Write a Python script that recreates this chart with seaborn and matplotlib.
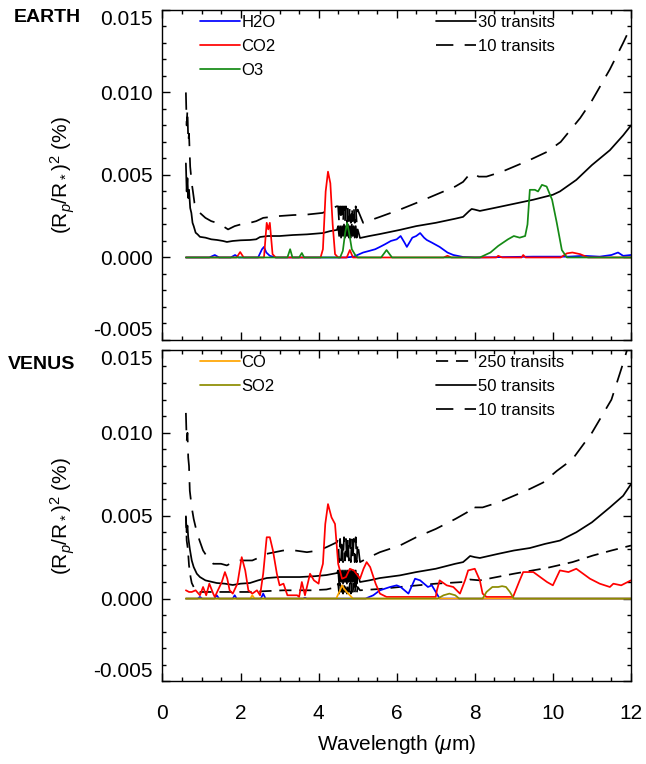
import numpy as np
import pandas as pd
import matplotlib
matplotlib.use("Agg")
import matplotlib.pyplot as plt
from matplotlib.lines import Line2D
from matplotlib.ticker import MultipleLocator
import seaborn as sns

# ---------------- DATA ----------------
# EARTH panel
earth_x30 = [0.60, 0.62, 0.64, 0.66, 0.68, 0.71, 0.74, 0.77, 0.80, 0.85, 0.90, 0.96, 1.10, 1.25, 1.40,
             1.55, 1.65, 1.80, 2.00, 2.24, 2.40, 2.50, 2.70, 3.00, 3.34, 3.70, 4.11, 4.30, 4.47,
             4.500, 4.525, 4.550, 4.575, 4.600, 4.625, 4.650, 4.675, 4.700, 4.725, 4.750, 4.775,
             4.800, 4.825, 4.850, 4.875, 4.900, 4.925, 4.950, 4.975, 5.000,
             5.06, 5.30, 5.57, 6.08, 6.50, 7.00, 7.50, 7.70, 7.85, 7.92, 8.00, 8.13, 8.50, 8.98,
             9.50, 10.00, 10.18, 10.60, 11.00, 11.46, 11.80, 12.00]
earth_y30 = [0.0057, 0.0040, 0.0048, 0.0036, 0.0041, 0.0030, 0.0027, 0.0021, 0.0019, 0.0015, 0.0014, 0.00125,
             0.0012, 0.0011, 0.00106, 0.0010, 0.00094, 0.0010, 0.00104, 0.00106, 0.0011, 0.00124, 0.0013,
             0.0013, 0.00136, 0.0014, 0.00148, 0.0016, 0.00167,
             0.0019, 0.0013, 0.0019, 0.0012, 0.0019, 0.0013, 0.0020, 0.0012, 0.0019, 0.0013, 0.0020, 0.0012,
             0.0019, 0.0012, 0.0020, 0.0013, 0.0019, 0.0012, 0.0019, 0.0012, 0.0017,
             0.00118, 0.0013, 0.00142, 0.00167, 0.0019, 0.0021, 0.00235, 0.00246, 0.0028, 0.00294, 0.0029,
             0.00282, 0.0030, 0.00324, 0.0035, 0.0038, 0.0040, 0.0047, 0.0056, 0.0065, 0.0074, 0.0080]

earth_x10 = [0.60, 0.62, 0.64, 0.66, 0.68, 0.71, 0.75, 0.78, 0.82, 0.88, 0.96, 1.10, 1.25, 1.39, 1.55,
             1.68, 1.85, 2.00, 2.24, 2.40, 2.58, 2.93, 3.35, 3.70, 4.10, 4.30, 4.46,
             4.500, 4.525, 4.550, 4.575, 4.600, 4.625, 4.650, 4.675, 4.700, 4.725, 4.750, 4.775,
             4.800, 4.825, 4.850, 4.875, 4.900, 4.925, 4.950, 4.975, 5.000,
             5.14, 5.57, 6.08, 6.50, 7.00, 7.50, 7.70, 7.85, 7.95, 8.10, 8.30, 8.70, 9.00, 9.40,
             9.85, 10.20, 10.70, 11.00, 11.46, 11.80, 12.00]
earth_y10 = [0.0100, 0.0080, 0.0090, 0.0070, 0.0075, 0.0055, 0.0045, 0.0040, 0.0033, 0.0030, 0.0027, 0.0024,
             0.0022, 0.0021, 0.0019, 0.0017, 0.0019, 0.0020, 0.0021, 0.0022, 0.0024, 0.0025, 0.00257, 0.0026,
             0.0027, 0.0029, 0.0031,
             0.0031, 0.0021, 0.0031, 0.0022, 0.0031, 0.0021, 0.0031, 0.0022, 0.0031, 0.0021, 0.0031, 0.0022,
             0.0031, 0.0021, 0.0031, 0.0022, 0.0031, 0.0021, 0.0031, 0.0021, 0.0029,
             0.0021, 0.00246, 0.0029, 0.0033, 0.0038, 0.0043, 0.00458, 0.0050, 0.0051, 0.0049, 0.0049,
             0.0052, 0.0055, 0.0059, 0.0064, 0.0070, 0.00845, 0.0095, 0.0114, 0.0130, 0.0140]

earth_h2o_x = [0.6, 1.2, 1.34, 1.45, 1.75, 1.86, 1.95, 2.45, 2.55, 2.60, 2.66, 2.75, 2.90, 4.70, 4.90,
               5.14, 5.30, 5.45, 5.57, 5.70, 5.85, 6.00, 6.10, 6.20, 6.26, 6.40, 6.50, 6.60, 6.70, 6.77,
               6.90, 7.10, 7.30, 7.45, 7.70, 8.00, 9.50, 10.40, 10.80, 11.20, 11.50, 11.67, 11.80, 12.00]
earth_h2o_y = [0, 0, 0.00015, 0, 0, 0.00015, 0, 0, 0.0005, 0.00064, 0.0003, 0.0001, 0, 0, 0.00005,
               0.0003, 0.0004, 0.0005, 0.00064, 0.0008, 0.0010, 0.0011, 0.0013, 0.0009, 0.00064, 0.0012,
               0.0013, 0.00148, 0.0012, 0.00106, 0.0009, 0.00064, 0.0003, 0.00015, 0.00003, 0, 0.00005,
               0.00005, 0.0001, 0.00005, 0.00015, 0.0003, 0.0001, 0.00015]

earth_co2_x = [0.6, 1.90, 1.99, 2.08, 2.60, 2.67, 2.71, 2.75, 2.82, 2.90, 4.05, 4.11, 4.18, 4.24, 4.30,
               4.36, 4.42, 4.50, 4.72, 4.80, 4.88, 7.20, 7.30, 7.40, 8.55, 8.60, 8.70, 9.20, 9.24, 9.30,
               10.20, 10.36, 10.50, 10.70, 10.90, 12.00]
earth_co2_y = [0, 0, 0.00033, 0, 0, 0.0021, 0.0017, 0.0021, 0.0002, 0, 0, 0.0005, 0.0040, 0.0052, 0.0045,
               0.0020, 0.0002, 0, 0, 0.00045, 0, 0, 0.0001, 0, 0, 0.0001, 0, 0, 0.00015, 0,
               0, 0.00025, 0.0003, 0.0002, 0, 0]

earth_o3_x = [0.6, 3.20, 3.27, 3.33, 3.50, 3.57, 3.63, 4.55, 4.62, 4.68, 4.73, 4.78, 4.85, 4.95, 5.00,
              5.60, 5.74, 5.88, 8.13, 8.40, 8.60, 8.85, 9.00, 9.15, 9.29, 9.35, 9.41, 9.54, 9.62, 9.72,
              9.84, 9.98, 10.10, 10.23, 10.36, 12.00]
earth_o3_y = [0, 0, 0.0005, 0, 0, 0.00027, 0, 0, 0.0004, 0.0015, 0.0021, 0.0015, 0.0005, 0.0001, 0,
              0, 0.00045, 0, 0, 0.0003, 0.0007, 0.0011, 0.0013, 0.0012, 0.0013, 0.0020, 0.0041, 0.0041,
              0.0040, 0.0044, 0.0043, 0.0035, 0.0021, 0.00045, 0, 0]

# VENUS panel
venus_x10 = [0.60, 0.62, 0.64, 0.66, 0.68, 0.70, 0.75, 0.80, 0.87, 0.95, 1.04, 1.15, 1.30, 1.50, 1.65,
             1.80, 1.98, 2.30, 2.50, 2.67, 3.09, 3.40, 3.70, 4.00, 4.20, 4.47,
             4.500, 4.525, 4.550, 4.575, 4.600, 4.625, 4.650, 4.675, 4.700, 4.725, 4.750, 4.775,
             4.800, 4.825, 4.850, 4.875, 4.900, 4.925, 4.950, 4.975, 5.000,
             5.06, 5.30, 5.57, 6.08, 6.50, 7.00, 7.50, 7.80, 7.88, 8.00, 8.20, 8.60, 9.00, 9.40,
             9.75, 10.10, 10.50, 11.00, 11.50, 11.80, 12.00]
venus_y10 = [0.0112, 0.0095, 0.0100, 0.0085, 0.0080, 0.0065, 0.0055, 0.0048, 0.0041, 0.0035, 0.0029, 0.0025,
             0.0021, 0.0021, 0.0020, 0.0022, 0.0023, 0.0023, 0.0025, 0.0027, 0.0029, 0.0029, 0.0028, 0.0029,
             0.0031, 0.0034,
             0.0036, 0.0022, 0.0036, 0.0023, 0.0036, 0.0022, 0.0037, 0.0023, 0.0036, 0.0022, 0.0037, 0.0023,
             0.0036, 0.0022, 0.0037, 0.0023, 0.0036, 0.0022, 0.0037, 0.0022, 0.0034,
             0.0022, 0.0025, 0.0028, 0.0032, 0.0037, 0.0042, 0.0048, 0.0052, 0.0056, 0.0055, 0.0055,
             0.0058, 0.0062, 0.0066, 0.0070, 0.0077, 0.0084, 0.0100, 0.0120, 0.0142, 0.0158]

venus_x50 = [0.60, 0.62, 0.64, 0.66, 0.70, 0.75, 0.80, 0.88, 0.96, 1.10, 1.39, 1.60, 1.80, 2.00, 2.24,
             2.45, 2.67, 3.00, 3.52, 3.90, 4.20, 4.47,
             4.500, 4.525, 4.550, 4.575, 4.600, 4.625, 4.650, 4.675, 4.700, 4.725, 4.750, 4.775,
             4.800, 4.825, 4.850, 4.875, 4.900, 4.925, 4.950, 4.975, 5.000,
             5.06, 5.30, 5.57, 6.08, 6.50, 7.00, 7.50, 7.70, 7.80, 7.88, 8.00, 8.13, 8.60, 9.00,
             9.41, 9.80, 10.18, 10.60, 11.00, 11.46, 11.80, 12.00]
venus_y50 = [0.0049, 0.0040, 0.0044, 0.0037, 0.0030, 0.0023, 0.0019, 0.0015, 0.0013, 0.0011, 0.00094,
             0.0009, 0.00082, 0.0009, 0.00094, 0.0011, 0.00124, 0.0013, 0.0013, 0.00135, 0.00142, 0.00154,
             0.0017, 0.0009, 0.0017, 0.0010, 0.0017, 0.0009, 0.0017, 0.0010, 0.0017, 0.0009, 0.0017, 0.0010,
             0.0017, 0.0009, 0.0017, 0.0010, 0.0017, 0.0009, 0.0017, 0.0009, 0.0015,
             0.0010, 0.0011, 0.00124, 0.0014, 0.0016, 0.0018, 0.0021, 0.0022, 0.0024, 0.00257, 0.0025,
             0.00245, 0.0027, 0.0029, 0.00305, 0.0033, 0.0035, 0.0040, 0.0046, 0.0055, 0.0062, 0.0069]

venus_x250 = [0.60, 0.62, 0.65, 0.68, 0.72, 0.75, 0.82, 0.96, 1.50, 2.20, 3.10, 3.80, 4.20, 4.47,
              4.500, 4.525, 4.550, 4.575, 4.600, 4.625, 4.650, 4.675, 4.700, 4.725, 4.750, 4.775,
              4.800, 4.825, 4.850, 4.875, 4.900, 4.925, 4.950, 4.975, 5.000,
              5.06, 5.57, 6.08, 7.00, 7.70, 7.88, 8.13, 9.00, 9.85, 10.50, 11.03, 11.50, 12.00]
venus_y250 = [0.0050, 0.0035, 0.0030, 0.0020, 0.0013, 0.00094, 0.0006, 0.0004, 0.0004, 0.0004, 0.0005,
              0.0005, 0.00055, 0.0007,
              0.0009, 0.0003, 0.0009, 0.0004, 0.0009, 0.0003, 0.0009, 0.0004, 0.0009, 0.0003, 0.0009, 0.0004,
              0.0009, 0.0003, 0.0009, 0.0004, 0.0009, 0.0003, 0.0009, 0.0003, 0.0007,
              0.0005, 0.00058, 0.0007, 0.0009, 0.0010, 0.00115, 0.0011, 0.0015, 0.00185, 0.0022, 0.0026,
              0.0029, 0.0032]

venus_co2_x = [0.60, 0.68, 0.75, 0.85, 0.96, 1.04, 1.12, 1.20, 1.30, 1.34, 1.42, 1.52, 1.60, 1.66, 1.72,
               1.80, 1.92, 2.03, 2.12, 2.20, 2.30, 2.42, 2.50, 2.58, 2.67, 2.75, 2.83, 2.93, 3.00, 3.10,
               3.20, 3.45, 3.50, 3.57, 3.65, 3.78, 3.88, 4.00, 4.04, 4.11, 4.17, 4.24, 4.33, 4.42, 4.50,
               4.60, 4.70, 4.80, 4.90, 5.00, 5.06, 5.15, 5.23, 5.32, 5.46, 5.57, 5.74, 7.00, 7.03, 7.10,
               7.28, 7.45, 7.62, 7.75, 7.83, 8.00, 8.13, 8.20, 8.30, 8.98, 9.15, 9.24, 9.50, 9.85, 10.00,
               10.18, 10.40, 10.60, 10.95, 11.20, 11.46, 11.55, 11.75, 12.00]
venus_co2_y = [0.0005, 0.0004, 0.0004, 0.0005, 0.0002, 0.0007, 0.0002, 0.0009, 0.0003, 0.0001, 0.0005,
               0.0010, 0.0016, 0.0012, 0.0005, 0.0003, 0.0009, 0.0025, 0.0017, 0.0005, 0.0003, 0.0005,
               0.0002, 0.0015, 0.0037, 0.0037, 0.0029, 0.0015, 0.0008, 0.0009, 0.0002, 0.0002, 0.0001,
               0.0010, 0.0002, 0.0015, 0.0011, 0.0009, 0.0015, 0.0021, 0.0045, 0.0057, 0.0049, 0.0045,
               0.0021, 0.0012, 0.0013, 0.0018, 0.0017, 0.0014, 0.0012, 0.0018, 0.0022, 0.0019, 0.0009,
               0.0003, 0.0001, 0.0001, 0.0005, 0.0011, 0.0008, 0.0007, 0.0003, 0.0011, 0.0017, 0.0018,
               0.0011, 0.0003, 0.0001, 0.0001, 0.0011, 0.0016, 0.0016, 0.0010, 0.0008, 0.0017, 0.0016,
               0.0018, 0.0012, 0.0009, 0.0007, 0.0009, 0.0008, 0.0011]

venus_h2o_x = [0.6, 0.90, 0.96, 1.02, 1.33, 1.39, 1.45, 1.80, 1.85, 1.90, 2.52, 2.58, 2.64, 3.60, 3.65,
               3.70, 5.20, 5.40, 5.57, 5.83, 6.00, 6.10, 6.30, 6.47, 6.60, 6.80, 6.90, 7.00, 7.10, 12.0]
venus_h2o_y = [0, 0, 0.0001, 0, 0, 0.0002, 0, 0, 0.0002, 0, 0, 0.0003, 0, 0, 0.00005,
               0, 0, 0.0002, 0.0005, 0.0007, 0.0008, 0.0007, 0.0003, 0.0012, 0.0011, 0.0007, 0.0008,
               0.0004, 0, 0]

venus_co_x = [0.6, 2.25, 2.30, 2.36, 4.45, 4.55, 4.60, 4.65, 4.72, 4.80, 4.88, 12.0]
venus_co_y = [0, 0, 0.0002, 0, 0, 0.0005, 0.0008, 0.0006, 0.0004, 0.0002, 0, 0]

venus_so2_x = [0.6, 7.05, 7.20, 7.35, 7.50, 7.60, 8.20, 8.30, 8.45, 8.60, 8.70, 8.80, 8.90, 9.00, 12.0]
venus_so2_y = [0, 0, 0.0002, 0.0003, 0.0002, 0, 0, 0.0004, 0.0007, 0.0007, 0.00075, 0.0007, 0.0004, 0, 0]

panel_names = ["EARTH", "VENUS"]
x_ticks = [0, 2, 4, 6, 8, 10, 12]
y_ticks = [-0.005, 0.000, 0.005, 0.010, 0.015]
y_ticklabels = ["-0.005", "0.000", "0.005", "0.010", "0.015"]

# ---------------- STYLE ----------------
sns.set_style("ticks")
plt.rcParams['font.family'] = ['Liberation Sans', 'DejaVu Sans']
plt.rcParams['mathtext.fontset'] = 'custom'
plt.rcParams['mathtext.rm'] = 'Liberation Sans'
plt.rcParams['mathtext.it'] = 'Liberation Sans:italic'
plt.rcParams['mathtext.bf'] = 'Liberation Sans:bold'
plt.rcParams['text.color'] = 'black'
plt.rcParams['axes.labelcolor'] = 'black'
plt.rcParams['xtick.color'] = 'black'
plt.rcParams['ytick.color'] = 'black'

C_BLUE = "#0000ff"
C_RED = "#ff0000"
C_GREEN = "#158a15"
C_ORANGE = "#ffa500"
C_OLIVE = "#8c8c00"
LONG_DASH = (0, (10, 6.5))
SHORT_DASH = (0, (7, 4.5))
LW = 1.25

fig = plt.figure(figsize=(6.46, 7.64), dpi=100)
ax_e = fig.add_axes([0.2515, 0.555, 0.7252, 0.432])
ax_v = fig.add_axes([0.2515, 0.108, 0.7252, 0.434])


def line(ax, x, y, color, ls="-"):
    df = pd.DataFrame({"x": x, "y": y})
    sns.lineplot(data=df, x="x", y="y", ax=ax, color=color, linewidth=LW,
                 linestyle=ls, sort=False, estimator=None)


# EARTH
line(ax_e, earth_x30, earth_y30, "black", "-")
line(ax_e, earth_x10, earth_y10, "black", LONG_DASH)
line(ax_e, earth_h2o_x, earth_h2o_y, C_BLUE)
line(ax_e, earth_co2_x, earth_co2_y, C_RED)
line(ax_e, earth_o3_x, earth_o3_y, C_GREEN)

# VENUS
line(ax_v, venus_x250, venus_y250, "black", SHORT_DASH)
line(ax_v, venus_x50, venus_y50, "black", "-")
line(ax_v, venus_x10, venus_y10, "black", LONG_DASH)
line(ax_v, venus_h2o_x, venus_h2o_y, C_BLUE)
line(ax_v, venus_co2_x, venus_co2_y, C_RED)
line(ax_v, venus_co_x, venus_co_y, C_ORANGE)
line(ax_v, venus_so2_x, venus_so2_y, C_OLIVE)

ylab = r'(R$_p$/R$_*$)$^2$ (%)'
for ax in (ax_e, ax_v):
    ax.set_xlim(0, 12)
    ax.set_ylim(-0.005, 0.015)
    ax.set_xticks(x_ticks)
    ax.set_yticks(y_ticks)
    ax.set_yticklabels(y_ticklabels)
    ax.xaxis.set_minor_locator(MultipleLocator(0.5))
    ax.yaxis.set_minor_locator(MultipleLocator(0.001))
    ax.tick_params(which='both', direction='in', top=True, right=True, width=1.0, colors='black')
    ax.tick_params(which='major', length=5.5)
    ax.tick_params(which='minor', length=3)
    ax.tick_params(axis='y', which='major', labelsize=15, pad=7)
    ax.tick_params(axis='x', which='major', labelsize=15, pad=16)
    for s in ax.spines.values():
        s.set_linewidth(1.0)
        s.set_color('black')
    ax.set_ylabel(ylab, fontsize=15, color='black')
    ax.yaxis.set_label_coords(-0.183, 0.5)
    ax.set_xlabel("")

ax_e.tick_params(axis='x', which='major', labelbottom=False)
ax_v.set_xlabel(r'Wavelength ($\mu$m)', fontsize=15, color='black', va='center')
ax_v.xaxis.set_label_coords(0.5, -0.19)

# Legends
LEG_KW = dict(frameon=False, fontsize=12, handlelength=2.4, handletextpad=0.1,
              borderpad=0, borderaxespad=0, labelspacing=0.55, loc='upper left')

h_e1 = [Line2D([], [], color=C_BLUE, lw=LW), Line2D([], [], color=C_RED, lw=LW),
        Line2D([], [], color=C_GREEN, lw=LW)]
leg = ax_e.legend(h_e1, ["H2O", "CO2", "O3"], bbox_to_anchor=(0.08, 0.985), **LEG_KW)
ax_e.add_artist(leg)
h_e2 = [Line2D([], [], color='black', lw=LW), Line2D([], [], color='black', lw=LW, linestyle=LONG_DASH)]
ax_e.legend(h_e2, ["30 transits", "10 transits"], bbox_to_anchor=(0.584, 0.985), **LEG_KW)

h_v1 = [Line2D([], [], color=C_ORANGE, lw=LW), Line2D([], [], color=C_OLIVE, lw=LW)]
leg = ax_v.legend(h_v1, ["CO", "SO2"], bbox_to_anchor=(0.08, 0.985), **LEG_KW)
ax_v.add_artist(leg)
h_v2 = [Line2D([], [], color='black', lw=LW, linestyle=SHORT_DASH), Line2D([], [], color='black', lw=LW),
        Line2D([], [], color='black', lw=LW, linestyle=LONG_DASH)]
ax_v.legend(h_v2, ["250 transits", "50 transits", "10 transits"], bbox_to_anchor=(0.584, 0.985), **LEG_KW)

fig.text(14 / 646, 1 - 17 / 764, panel_names[0], fontsize=14, fontweight='bold', ha='left', va='center',
         color='black')
fig.text(8 / 646, 1 - 365 / 764, panel_names[1], fontsize=14, fontweight='bold', ha='left', va='center',
         color='black')

fig.canvas.draw()
for ax in (ax_e, ax_v):
    labs = ax.get_yticklabels()
    labs[-1].set_verticalalignment('top')
    labs[0].set_verticalalignment('bottom')

fig.savefig("out.png", dpi=100, facecolor='white')
